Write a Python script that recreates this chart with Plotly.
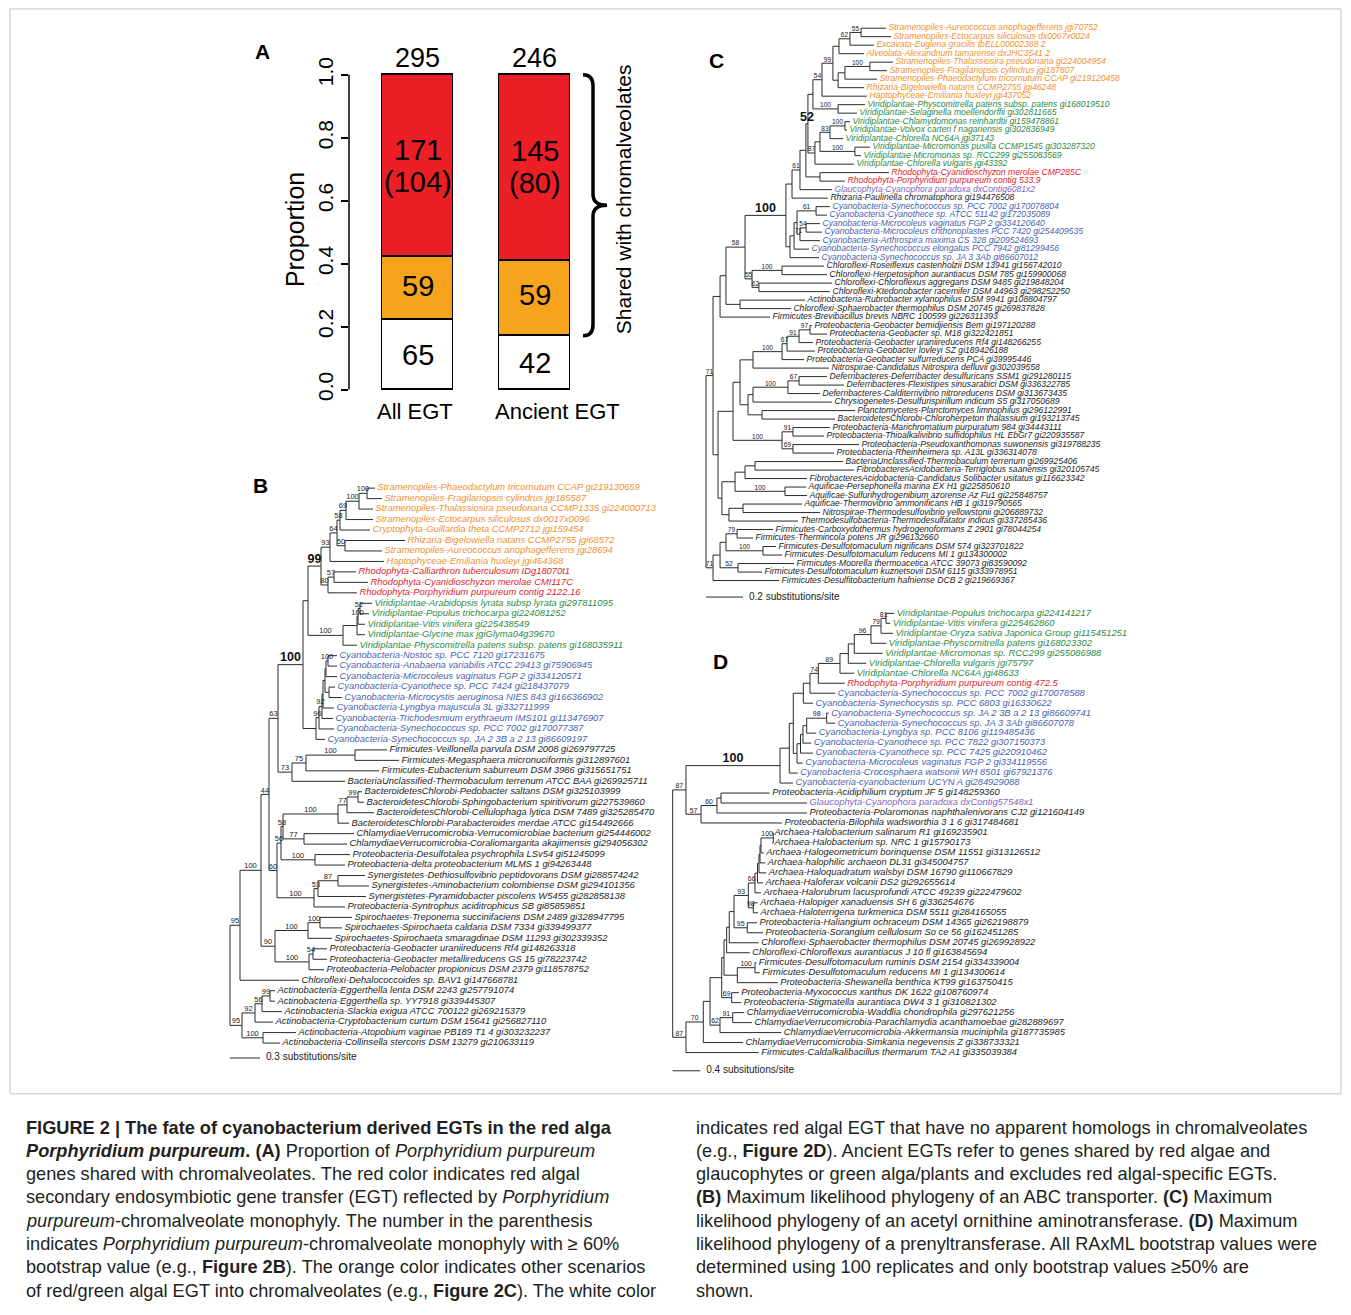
import plotly.graph_objects as go

W, H = 1351, 1315
FONT = "Liberation Sans, Arial, Helvetica, sans-serif"

# ---------------- Panel A data ----------------
categories = ["All EGT", "Ancient EGT"]
white_counts = [65, 42]
orange_counts = [59, 59]
red_counts = [171, 145]
red_bs60_counts = [104, 80]
prop_ticks = [0.0, 0.2, 0.4, 0.6, 0.8, 1.0]
prop_tick_labels = ["0.0", "0.2", "0.4", "0.6", "0.8", "1.0"]

# ---------------- Tree B (ABC transporter) ----------------
B_labels = [
    "Stramenopiles-Phaeodactylum tricornutum CCAP gi219130659",
    "Stramenopiles-Fragilariopsis cylindrus jgi185587",
    "Stramenopiles-Thalassiosira pseudonana CCMP1335 gi224000713",
    "Stramenopiles-Ectocarpus siliculosus dx0017x0096",
    "Cryptophyta-Guillardia theta CCMP2712 jgi159454",
    "Rhizaria-Bigelowiella natans CCMP2755 jgi68572",
    "Stramenopiles-Aureococcus anophagefferens jgi28694",
    "Haptophyceae-Emiliania huxleyi jgi464368",
    "Rhodophyta-Calliarthron tuberculosum IDg18070t1",
    "Rhodophyta-Cyanidioschyzon merolae CMI117C",
    "Rhodophyta-Porphyridium purpureum contig 2122.16",
    "Viridiplantae-Arabidopsis lyrata subsp lyrata gi297811095",
    "Viridiplantae-Populus trichocarpa gi224081252",
    "Viridiplantae-Vitis vinifera gi225438549",
    "Viridiplantae-Glycine max jgiGlyma04g39670",
    "Viridiplantae-Physcomitrella patens subsp. patens gi168035911",
    "Cyanobacteria-Nostoc sp. PCC 7120 gi17231675",
    "Cyanobacteria-Anabaena variabilis ATCC 29413 gi75906945",
    "Cyanobacteria-Microcoleus vaginatus FGP 2 gi334120571",
    "Cyanobacteria-Cyanothece sp. PCC 7424 gi218437079",
    "Cyanobacteria-Microcystis aeruginosa NIES 843 gi166366902",
    "Cyanobacteria-Lyngbya majuscula 3L gi332711999",
    "Cyanobacteria-Trichodesmium erythraeum IMS101 gi113476907",
    "Cyanobacteria-Synechococcus sp. PCC 7002 gi170077387",
    "Cyanobacteria-Synechococcus sp. JA 2 3B a 2 13 gi86609197",
    "Firmicutes-Veillonella parvula DSM 2008 gi269797725",
    "Firmicutes-Megasphaera micronuciformis gi312897601",
    "Firmicutes-Eubacterium saburreum DSM 3986 gi315651751",
    "BacteriaUnclassified-Thermobaculum terrenum ATCC BAA gi269925711",
    "BacteroidetesChlorobi-Pedobacter saltans DSM gi325103999",
    "BacteroidetesChlorobi-Sphingobacterium spiritivorum gi227539860",
    "BacteroidetesChlorobi-Cellulophaga lytica DSM 7489 gi325285470",
    "BacteroidetesChlorobi-Parabacteroides merdae ATCC gi154492666",
    "ChlamydiaeVerrucomicrobia-Verrucomicrobiae bacterium gi254446002",
    "ChlamydiaeVerrucomicrobia-Coraliomargarita akajimensis gi294056302",
    "Proteobacteria-Desulfotalea psychrophila LSv54 gi51245099",
    "Proteobacteria-delta proteobacterium MLMS 1 gi94263448",
    "Synergistetes-Dethiosulfovibrio peptidovorans DSM gi288574242",
    "Synergistetes-Aminobacterium colombiense DSM gi294101356",
    "Synergistetes-Pyramidobacter piscolens W5455 gi282858138",
    "Proteobacteria-Syntrophus aciditrophicus SB gi85859851",
    "Spirochaetes-Treponema succinifaciens DSM 2489 gi328947795",
    "Spirochaetes-Spirochaeta caldaria DSM 7334 gi339499377",
    "Spirochaetes-Spirochaeta smaragdinae DSM 11293 gi302339352",
    "Proteobacteria-Geobacter uraniireducens Rf4 gi148263318",
    "Proteobacteria-Geobacter metallireducens GS 15 gi78223742",
    "Proteobacteria-Pelobacter propionicus DSM 2379 gi118578752",
    "Chloroflexi-Dehalococcoides sp. BAV1 gi147668781",
    "Actinobacteria-Eggerthella lenta DSM 2243 gi257791074",
    "Actinobacteria-Eggerthella sp. YY7918 gi339445307",
    "Actinobacteria-Slackia exigua ATCC 700122 gi269215379",
    "Actinobacteria-Cryptobacterium curtum DSM 15641 gi256827110",
    "Actinobacteria-Atopobium vaginae PB189 T1 4 gi303232237",
    "Actinobacteria-Collinsella stercoris DSM 13279 gi210633119",
]
B_groups = list("oooooooo" + "rrr" + "ggggg" + "bbbbbbbbb" + "k" * 29)
# tip depth (substitutions/site from root)
B_tips = [1.45, 1.52, 1.43, 1.43, 1.40, 1.75, 1.52, 1.54, 1.26, 1.38,
          1.27, 1.42, 1.39, 1.35, 1.35, 1.27, 1.07, 1.07, 1.07, 1.05,
          1.12, 1.04, 1.03, 1.04, 0.95, 1.57, 1.69, 1.49, 1.15, 1.32,
          1.34, 1.44, 1.19, 1.24, 1.17, 1.20, 1.15, 1.35, 1.39, 1.36,
          1.15, 1.22, 1.12, 1.02, 0.97, 0.97, 0.94, 0.69, 0.45, 0.45,
          0.52, 0.43, 0.66, 0.50]
# clades: (first leaf, last leaf, node depth, bootstrap, bold)
B_clades = [
    (1, 2, 1.37, "100", 0), (1, 3, 1.29, "100", 0), (1, 4, 1.16, "69", 0),
    (1, 5, 1.10, "58", 0), (6, 7, 1.15, "50", 0), (1, 7, 1.07, "64", 0),
    (1, 8, 1.00, "93", 0), (9, 10, 1.04, "57", 0), (9, 11, 0.98, "80", 0),
    (1, 11, 0.91, "99", 1), (12, 13, 1.30, "52", 0), (12, 14, 1.28, "100", 0),
    (12, 15, 1.27, "", 0), (12, 16, 1.13, "100", 0), (1, 16, 0.78, "", 0),
    (17, 18, 0.98, "100", 0), (17, 19, 0.96, "", 0), (20, 21, 0.99, "", 0),
    (17, 21, 0.95, "", 0), (17, 22, 0.93, "", 0), (17, 23, 0.92, "92", 0),
    (17, 24, 0.89, "96", 0), (17, 25, 0.86, "", 0), (1, 25, 0.73, "100", 1),
    (26, 27, 1.25, "100", 0), (26, 28, 0.76, "75", 0), (26, 29, 0.62, "73", 0),
    (1, 29, 0.48, "63", 0), (30, 31, 1.28, "99", 0), (30, 32, 1.17, "77", 0),
    (30, 33, 1.08, "100", 0), (34, 35, 0.74, "77", 0), (30, 35, 0.53, "58", 0),
    (36, 37, 0.85, "100", 0), (30, 37, 0.51, "56", 0), (38, 39, 1.08, "87", 0),
    (38, 40, 0.88, "53", 0), (38, 41, 0.84, "100", 0), (30, 41, 0.47, "60", 0),
    (1, 41, 0.39, "44", 0), (42, 43, 0.90, "100", 0), (42, 44, 0.78, "100", 0),
    (45, 46, 0.83, "54", 0), (45, 47, 0.79, "100", 0), (42, 47, 0.45, "90", 0),
    (1, 47, 0.31, "100", 0), (1, 48, 0.10, "95", 0), (49, 50, 0.40, "99", 0),
    (49, 51, 0.32, "56", 0), (49, 52, 0.25, "92", 0), (53, 54, 0.33, "100", 0),
    (49, 54, 0.12, "95", 0), (1, 54, 0.00, "", 0),
]

# ---------------- Tree C (acetyl ornithine aminotransferase) ----------------
C_labels = [
    "Stramenopiles-Aureococcus anophagefferens jgi70752",
    "Stramenopiles-Ectocarpus siliculosus dx0067x0024",
    "Excavata-Euglena gracilis tbELL00002388 2",
    "Alveolata-Alexandrium tamarense dxJHC3541 2",
    "Stramenopiles-Thalassiosira pseudonana gi224004954",
    "Stramenopiles-Fragilariopsis cylindrus jgi187807",
    "Stramenopiles-Phaeodactylum tricornutum CCAP gi219120458",
    "Rhizaria-Bigelowiella natans CCMP2755 jgi46248",
    "Haptophyceae-Emiliania huxleyi jgi437052",
    "Viridiplantae-Physcomitrella patens subsp. patens gi168019510",
    "Viridiplantae-Selaginella moellendorffii gi302811665",
    "Viridiplantae-Chlamydomonas reinhardtii gi159478861",
    "Viridiplantae-Volvox carteri f nagariensis gi302836949",
    "Viridiplantae-Chlorella NC64A jgi37143",
    "Viridiplantae-Micromonas pusilla CCMP1545 gi303287320",
    "Viridiplantae-Micromonas sp. RCC299 gi255083569",
    "Viridiplantae-Chlorella vulgaris jgi43392",
    "Rhodophyta-Cyanidioschyzon merolae CMP285C",
    "Rhodophyta-Porphyridium purpureum contig 533.9",
    "Glaucophyta-Cyanophora paradoxa dxContig6081x2",
    "Rhizaria-Paulinella chromatophora gi194476508",
    "Cyanobacteria-Synechococcus sp. PCC 7002 gi170078804",
    "Cyanobacteria-Cyanothece sp. ATCC 51142 gi172035089",
    "Cyanobacteria-Microcoleus vaginatus FGP 2 gi334120640",
    "Cyanobacteria-Microcoleus chthonoplastes PCC 7420 gi254409535",
    "Cyanobacteria-Arthrospira maxima CS 328 gi209524693",
    "Cyanobacteria-Synechococcus elongatus PCC 7942 gi81299456",
    "Cyanobacteria-Synechococcus sp. JA 3 3Ab gi86607012",
    "Chloroflexi-Roseiflexus castenholzii DSM 13941 gi156742010",
    "Chloroflexi-Herpetosiphon aurantiacus DSM 785 gi159900068",
    "Chloroflexi-Chloroflexus aggregans DSM 9485 gi219848204",
    "Chloroflexi-Ktedonobacter racemifer DSM 44963 gi298252250",
    "Actinobacteria-Rubrobacter xylanophilus DSM 9941 gi108804797",
    "Chloroflexi-Sphaerobacter thermophilus DSM 20745 gi269837828",
    "Firmicutes-Brevibacillus brevis NBRC 100599 gi226311393",
    "Proteobacteria-Geobacter bemidjiensis Bem gi197120288",
    "Proteobacteria-Geobacter sp. M18 gi322421851",
    "Proteobacteria-Geobacter uraniireducens Rf4 gi148266255",
    "Proteobacteria-Geobacter lovleyi SZ gi189426188",
    "Proteobacteria-Geobacter sulfurreducens PCA gi39995446",
    "Nitrospirae-Candidatus Nitrospira defluvii gi302039558",
    "Deferribacteres-Deferribacter desulfuricans SSM1 gi291280115",
    "Deferribacteres-Flexistipes sinusarabici DSM gi336322785",
    "Deferribacteres-Calditerrivibrio nitroreducens DSM gi313673435",
    "Chrysiogenetes-Desulfurispirillum indicum S5 gi317050689",
    "Planctomycetes-Planctomyces limnophilus gi296122991",
    "BacteroidetesChlorobi-Chloroherpeton thalassium gi193213745",
    "Proteobacteria-Marichromatium purpuratum 984 gi34443111",
    "Proteobacteria-Thioalkalivibrio sulfidophilus HL EbGr7 gi220935587",
    "Proteobacteria-Pseudoxanthomonas suwonensis gi319788235",
    "Proteobacteria-Rheinheimera sp. A13L gi336314078",
    "BacteriaUnclassified-Thermobaculum terrenum gi269925406",
    "FibrobacteresAcidobacteria-Terriglobus saanensis gi320105745",
    "FibrobacteresAcidobacteria-Candidatus Solibacter usitatus gi116623342",
    "Aquificae-Persephonella marina EX H1 gi225850610",
    "Aquificae-Sulfurihydrogenibium azorense Az Fu1 gi225848757",
    "Aquificae-Thermovibrio ammonificans HB 1 gi319790565",
    "Nitrospirae-Thermodesulfovibrio yellowstonii gi206889732",
    "Thermodesulfobacteria-Thermodesulfatator indicus gi337285436",
    "Firmicutes-Carboxydothermus hydrogenoformans Z 2901 gi78044254",
    "Firmicutes-Thermincola potens JR gi296132660",
    "Firmicutes-Desulfotomaculum nigrificans DSM 574 gi323701822",
    "Firmicutes-Desulfotomaculum reducens MI 1 gi134300002",
    "Firmicutes-Moorella thermoacetica ATCC 39073 gi83590092",
    "Firmicutes-Desulfotomaculum kuznetsovii DSM 6115 gi333978951",
    "Firmicutes-Desulfitobacterium hafniense DCB 2 gi219669367",
]
C_groups = list("ooooooooo" + "gggggggg" + "rr" + "p" + "k" + "bbbbbbb" + "k" * 38)
C_tips = [0.973, 1.000, 0.908, 0.854, 1.011, 0.978, 0.924, 0.854, 0.870, 0.859,
          0.816, 0.778, 0.762, 0.741, 0.886, 0.838, 0.800, 0.989, 0.751, 0.681,
          0.659, 0.670, 0.654, 0.616, 0.627, 0.616, 0.557, 0.611, 0.638, 0.654,
          0.681, 0.670, 0.535, 0.459, 0.346, 0.573, 0.654, 0.578, 0.589, 0.530,
          0.665, 0.654, 0.746, 0.616, 0.681, 0.805, 0.697, 0.670, 0.638, 0.827,
          0.692, 0.741, 0.800, 0.546, 0.541, 0.546, 0.519, 0.616, 0.497, 0.362,
          0.254, 0.378, 0.411, 0.476, 0.303, 0.395]
C_clades = [
    (1, 2, 0.838, "55", 0), (1, 3, 0.778, "62", 0), (1, 4, 0.719, "", 0),
    (5, 6, 0.886, "100", 0), (5, 7, 0.751, "", 0), (5, 8, 0.714, "", 0),
    (1, 8, 0.686, "99", 0), (1, 9, 0.627, "54", 0), (10, 11, 0.714, "100", 0),
    (1, 11, 0.578, "", 0), (12, 13, 0.751, "100", 0), (12, 14, 0.670, "83", 0),
    (15, 16, 0.805, "100", 0), (12, 16, 0.616, "", 0), (12, 17, 0.589, "87", 0),
    (1, 17, 0.551, "52", 1), (18, 19, 0.616, "", 0), (1, 19, 0.540, "", 0),
    (1, 20, 0.508, "61", 0), (1, 21, 0.465, "", 0), (22, 23, 0.595, "61", 0),
    (24, 25, 0.541, "54", 0), (24, 26, 0.508, "71", 0), (22, 26, 0.492, "", 0),
    (22, 27, 0.476, "", 0), (22, 28, 0.454, "", 0), (1, 28, 0.432, "100", 1),
    (29, 30, 0.411, "100", 0), (31, 32, 0.286, "62", 0), (29, 32, 0.249, "55", 0),
    (1, 32, 0.211, "58", 0), (33, 34, 0.184, "", 0), (1, 34, 0.108, "", 0),
    (1, 35, 0.076, "", 0), (36, 37, 0.562, "97", 0), (36, 38, 0.503, "91", 0),
    (36, 39, 0.438, "67", 0), (36, 40, 0.411, "100", 0), (36, 41, 0.254, "", 0),
    (42, 43, 0.503, "67", 0), (42, 44, 0.443, "100", 0), (42, 45, 0.254, "", 0),
    (46, 47, 0.303, "", 0), (42, 47, 0.227, "", 0), (36, 47, 0.184, "", 0),
    (48, 49, 0.470, "91", 0), (50, 51, 0.470, "69", 0), (48, 51, 0.411, "100", 0),
    (36, 51, 0.146, "", 0), (52, 53, 0.265, "", 0), (52, 54, 0.211, "", 0),
    (55, 56, 0.427, "100", 0), (52, 56, 0.157, "", 0), (57, 58, 0.200, "", 0),
    (57, 59, 0.124, "", 0), (52, 59, 0.086, "", 0), (36, 59, 0.065, "", 0),
    (1, 59, 0.038, "71", 0), (60, 61, 0.168, "79", 0), (62, 63, 0.308, "100", 0),
    (60, 63, 0.108, "", 0), (64, 65, 0.173, "52", 0), (60, 65, 0.076, "", 0),
    (60, 66, 0.038, "71", 0), (1, 66, 0.000, "", 0),
]

# ---------------- Tree D (prenyltransferase) ----------------
D_labels = [
    "Viridiplantae-Populus trichocarpa gi224141217",
    "Viridiplantae-Vitis vinifera gi225462860",
    "Viridiplantae-Oryza sativa Japonica Group gi115451251",
    "Viridiplantae-Physcomitrella patens gi168023302",
    "Viridiplantae-Micromonas sp. RCC299 gi255086988",
    "Viridiplantae-Chlorella vulgaris jgi75797",
    "Viridiplantae-Chlorella NC64A jgi48633",
    "Rhodophyta-Porphyridium purpureum contig 472.5",
    "Cyanobacteria-Synechococcus sp. PCC 7002 gi170078588",
    "Cyanobacteria-Synechocystis sp. PCC 6803 gi16330622",
    "Cyanobacteria-Synechococcus sp. JA 2 3B a 2 13 gi86609741",
    "Cyanobacteria-Synechococcus sp. JA 3 3Ab gi86607078",
    "Cyanobacteria-Lyngbya sp. PCC 8106 gi119485436",
    "Cyanobacteria-Cyanothece sp. PCC 7822 gi307150373",
    "Cyanobacteria-Cyanothece sp. PCC 7425 gi220910462",
    "Cyanobacteria-Microcoleus vaginatus FGP 2 gi334119556",
    "Cyanobacteria-Crocosphaera watsonii WH 8501 gi67921376",
    "Cyanobacteria-cyanobacterium UCYN A gi284929088",
    "Proteobacteria-Acidiphilium cryptum JF 5 gi148259360",
    "Glaucophyta-Cyanophora paradoxa dxContig57548x1",
    "Proteobacteria-Polaromonas naphthalenivorans CJ2 gi121604149",
    "Proteobacteria-Bilophila wadsworthia 3 1 6 gi317484681",
    "Archaea-Halobacterium salinarum R1 gi169235901",
    "Archaea-Halobacterium sp. NRC 1 gi15790173",
    "Archaea-Halogeometricum borinquense DSM 11551 gi313126512",
    "Archaea-halophilic archaeon DL31 gi345004757",
    "Archaea-Haloquadratum walsbyi DSM 16790 gi110667829",
    "Archaea-Haloferax volcanii DS2 gi292655614",
    "Archaea-Halorubrum lacusprofundi ATCC 49239 gi222479602",
    "Archaea-Halopiger xanaduensis SH 6 gi336254676",
    "Archaea-Haloterrigena turkmenica DSM 5511 gi284165055",
    "Proteobacteria-Haliangium ochraceum DSM 14365 gi262198879",
    "Proteobacteria-Sorangium cellulosum So ce 56 gi162451285",
    "Chloroflexi-Sphaerobacter thermophilus DSM 20745 gi269928922",
    "Chloroflexi-Chloroflexus aurantiacus J 10 fl gi163845694",
    "Firmicutes-Desulfotomaculum ruminis DSM 2154 gi334339004",
    "Firmicutes-Desulfotomaculum reducens MI 1 gi134300614",
    "Proteobacteria-Shewanella benthica KT99 gi163750415",
    "Proteobacteria-Myxococcus xanthus DK 1622 gi108760974",
    "Proteobacteria-Stigmatella aurantiaca DW4 3 1 gi310821302",
    "ChlamydiaeVerrucomicrobia-Waddlia chondrophila gi297621256",
    "ChlamydiaeVerrucomicrobia-Parachlamydia acanthamoebae gi282889697",
    "ChlamydiaeVerrucomicrobia-Akkermansia muciniphila gi187735985",
    "ChlamydiaeVerrucomicrobia-Simkania negevensis Z gi338733321",
    "Firmicutes-Caldalkalibacillus thermarum TA2 A1 gi335039384",
]
D_groups = list("ggggggg" + "r" + "bbbbbbbbbb" + "k" + "p" + "k" * 25)
D_tips = [3.223, 3.165, 3.204, 3.107, 3.055, 2.816, 2.641, 2.502, 2.365, 2.041,
          2.269, 2.365, 2.089, 2.016, 2.041, 1.891, 1.818, 1.750, 1.411, 1.953,
          1.953, 1.590, 1.444, 1.444, 1.324, 1.347, 1.361, 1.313, 1.284, 1.236,
          1.241, 1.226, 1.313, 1.251, 1.120, 1.216, 1.265, 1.527, 0.960, 0.998,
          1.041, 1.153, 1.580, 1.023, 1.251]
D_clades = [
    (1, 2, 3.103, "81", 0), (1, 3, 3.030, "79", 0), (1, 4, 2.884, "96", 0),
    (1, 5, 2.641, "", 0), (1, 6, 2.554, "", 0), (1, 7, 2.433, "89", 0),
    (1, 8, 2.118, "74", 0), (1, 9, 1.997, "", 0), (1, 10, 1.900, "", 0),
    (11, 12, 2.240, "98", 0), (11, 13, 1.949, "", 0), (11, 14, 1.895, "", 0),
    (11, 15, 1.859, "", 0), (11, 16, 1.808, "", 0), (1, 16, 1.754, "", 0),
    (1, 17, 1.696, "", 0), (1, 18, 1.561, "100", 1), (19, 20, 0.703, "", 0),
    (19, 21, 0.644, "60", 0), (19, 22, 0.412, "57", 0), (1, 22, 0.193, "87", 0),
    (23, 24, 1.463, "100", 0), (23, 25, 1.284, "", 0), (23, 26, 1.270, "", 0),
    (23, 27, 1.255, "", 0), (23, 28, 1.233, "", 0), (23, 29, 1.197, "66", 0),
    (30, 31, 1.172, "98", 0), (23, 31, 1.100, "93", 0), (32, 33, 1.085, "95", 0),
    (23, 33, 0.892, "", 0), (23, 34, 0.823, "", 0), (23, 35, 0.785, "", 0),
    (36, 37, 1.197, "100", 0), (36, 38, 0.940, "", 0), (23, 38, 0.746, "", 0),
    (39, 40, 0.858, "69", 0), (23, 40, 0.713, "", 0), (41, 42, 0.873, "91", 0),
    (41, 43, 0.688, "62", 0), (23, 43, 0.543, "", 0), (23, 44, 0.445, "70", 0),
    (23, 45, 0.193, "87", 0), (1, 45, 0.000, "", 0),
]

GROUP_COLORS = {"o": "#F0912F", "r": "#E2242B", "g": "#2C8A45",
                "b": "#4763AE", "p": "#8066BE", "k": "#1E1E1E"}

fig = go.Figure()


def tree_geometry(n, tips, clades):
    size = lambda c: c[1] - c[0]
    cl = sorted(clades, key=size)
    parent = []
    for i, c in enumerate(cl):
        best = None
        for j, d in enumerate(cl):
            if j != i and d[0] <= c[0] and c[1] <= d[1] and size(d) > size(c):
                if best is None or size(d) < size(cl[best]):
                    best = j
        parent.append(best)
    leaf_parent = []
    for k in range(1, n + 1):
        best = None
        for j, d in enumerate(cl):
            if d[0] <= k <= d[1] and (best is None or size(d) < size(cl[best])):
                best = j
        leaf_parent.append(best)
    ycen = [0.0] * len(cl)
    xs, ys = [], []
    for i, c in enumerate(cl):
        kids = [(k, tips[k]) for k in range(n) if leaf_parent[k] == i]
        kids += [(ycen[j], cl[j][2]) for j in range(i) if parent[j] == i]
        lo = min(k[0] for k in kids)
        hi = max(k[0] for k in kids)
        ycen[i] = (lo + hi) / 2
        xs += [c[2], c[2], None]
        ys += [lo, hi, None]
        for (yk, xk) in kids:
            xs += [c[2], xk, None]
            ys += [yk, yk, None]
    sup = {0: ([], [], []), 1: ([], [], [])}
    for i, c in enumerate(cl):
        if parent[i] is not None and c[3]:
            sx, sy, st = sup[c[4]]
            sx.append((cl[parent[i]][2] + c[2]) / 2)
            sy.append(ycen[i])
            st.append(c[3])
    return xs, ys, sup


def add_tree(idx, labels, groups, tips, clades, root_px, ppu, y0_px, step_px,
             right_px, label_size, support_size, scale_len, scale_text, scale_gap_px):
    n = len(labels)
    pad_px = 8
    top_px = y0_px - 1.5 * step_px
    bot_px = y0_px + (n - 1 + 3) * step_px
    fig.update_layout(**{
        f"xaxis{idx}": dict(domain=[(root_px - pad_px) / W, right_px / W],
                            range=[-pad_px / ppu, (right_px - root_px) / ppu],
                            visible=False, anchor=f"y{idx}", fixedrange=True),
        f"yaxis{idx}": dict(domain=[1 - bot_px / H, 1 - top_px / H],
                            range=[n - 1 + 3, -1.5], visible=False,
                            anchor=f"x{idx}", fixedrange=True),
    })
    xa, ya = f"x{idx}", f"y{idx}"
    xs, ys, sup = tree_geometry(n, tips, clades)
    fig.add_trace(go.Scatter(x=xs, y=ys, mode="lines", xaxis=xa, yaxis=ya,
                             line=dict(color="#2a2a2a", width=1),
                             hoverinfo="skip", showlegend=False))
    gap = 2.5 / ppu
    fig.add_trace(go.Scatter(
        x=[t + gap for t in tips], y=list(range(n)), mode="text", text=labels,
        textposition="middle right", xaxis=xa, yaxis=ya, cliponaxis=False,
        textfont=dict(family=FONT, size=label_size, style="italic",
                      color=[GROUP_COLORS[g] for g in groups]),
        hoverinfo="skip", showlegend=False))
    sx, sy, st = sup[0]
    fig.add_trace(go.Scatter(
        x=sx, y=sy, mode="text", text=st, textposition="top center",
        xaxis=xa, yaxis=ya, cliponaxis=False,
        textfont=dict(family=FONT, size=support_size, color="#1a1a1a"),
        hoverinfo="skip", showlegend=False))
    bx, by, bt = sup[1]
    fig.add_trace(go.Scatter(
        x=bx, y=by, mode="text", text=[f"<b>{t}</b>" for t in bt],
        textposition="top center", xaxis=xa, yaxis=ya, cliponaxis=False,
        textfont=dict(family=FONT, size=12.5, color="#111111"),
        hoverinfo="skip", showlegend=False))
    ysb = n - 1 + scale_gap_px / step_px
    fig.add_trace(go.Scatter(x=[0, scale_len], y=[ysb, ysb], mode="lines",
                             xaxis=xa, yaxis=ya, line=dict(color="#2a2a2a", width=1),
                             cliponaxis=False, hoverinfo="skip", showlegend=False))
    fig.add_trace(go.Scatter(
        x=[scale_len + 6 / ppu], y=[ysb], mode="text", text=[scale_text],
        textposition="middle right", xaxis=xa, yaxis=ya, cliponaxis=False,
        textfont=dict(family=FONT, size=10, color="#1a1a1a"),
        hoverinfo="skip", showlegend=False))


def paper_text(px, py, text, size, angle=0, color="black"):
    fig.add_annotation(x=px / W, y=1 - py / H, xref="paper", yref="paper",
                       xanchor="center", yanchor="middle", text=text, textangle=angle,
                       showarrow=False, font=dict(family=FONT, size=size, color=color))


# ---------------- Panel A: stacked proportions ----------------
totals = [w + o + r for w, o, r in zip(white_counts, orange_counts, red_counts)]
p_white = [w / t for w, t in zip(white_counts, totals)]
p_orange = [o / t for o, t in zip(orange_counts, totals)]
p_red = [r / t for r, t in zip(red_counts, totals)]
xpos = list(range(len(categories)))

A_y0_px, A_y1_px = 391, 75          # pixel rows of proportion 0 and 1
A_ppu_y = A_y0_px - A_y1_px
A_c0_px, A_ppu_x = 417.5, 117.0     # first bar centre, pixels per category
A_left_px, A_right_px = 349, 640
y_lo, y_hi = -0.02, 1.2
fig.update_layout(
    xaxis=dict(domain=[A_left_px / W, A_right_px / W],
               range=[(A_left_px - A_c0_px) / A_ppu_x, (A_right_px - A_c0_px) / A_ppu_x],
               visible=False, anchor="y", fixedrange=True),
    yaxis=dict(domain=[1 - (A_y0_px - y_lo * A_ppu_y) / H, 1 - (A_y0_px - y_hi * A_ppu_y) / H],
               range=[y_lo, y_hi], tickvals=prop_ticks, ticktext=prop_tick_labels,
               tickangle=-90, ticks="outside", ticklen=7, tickwidth=1.5, tickcolor="black",
               showline=False, showgrid=False, zeroline=False, anchor="x", fixedrange=True,
               tickfont=dict(family=FONT, size=21, color="black")),
)
bw = 71 / A_ppu_x
for vals, col in [(p_white, "white"), (p_orange, "#F6A31E"), (p_red, "#EC1E26")]:
    fig.add_trace(go.Bar(x=xpos, y=vals, width=bw, xaxis="x", yaxis="y",
                         marker=dict(color=col, line=dict(color="black", width=1.5)),
                         hoverinfo="skip", showlegend=False))

# y axis line from 0 to 1 only
fig.add_shape(type="line", xref="paper", yref="y", x0=A_left_px / W, x1=A_left_px / W,
              y0=0, y1=1, line=dict(color="black", width=1.5))

num_font = dict(family=FONT, size=29, color="black")
for i in xpos:
    fig.add_annotation(x=i, y=1.0, xref="x", yref="y", text=str(totals[i]),
                       showarrow=False, xanchor="center", yanchor="bottom",
                       font=dict(family=FONT, size=27, color="black"))
    mid_r = p_white[i] + p_orange[i] + p_red[i] / 2
    fig.add_annotation(x=i, y=mid_r, xref="x", yref="y", text=str(red_counts[i]),
                       showarrow=False, xanchor="center", yanchor="middle", yshift=16, font=num_font)
    fig.add_annotation(x=i, y=mid_r, xref="x", yref="y", text=f"({red_bs60_counts[i]})",
                       showarrow=False, xanchor="center", yanchor="middle", yshift=-16, font=num_font)
    fig.add_annotation(x=i, y=p_white[i] + p_orange[i] / 2, xref="x", yref="y",
                       text=str(orange_counts[i]), showarrow=False, xanchor="center",
                       yanchor="middle", yshift=3, font=num_font)
    fig.add_annotation(x=i, y=p_white[i] / 2, xref="x", yref="y",
                       text=str(white_counts[i]), showarrow=False, xanchor="center",
                       yanchor="middle", font=num_font)

cat_label_px = [415, 557.5]
for c, cx in zip(categories, cat_label_px):
    paper_text(cx, 413, c, 22)
paper_text(295, 231, "Proportion", 25, angle=-90)

# curly brace spanning the "shared with chromalveolates" part of bar 2
bx0 = (583 - A_c0_px) / A_ppu_x
bx1 = (593 - A_c0_px) / A_ppu_x
btip = (607 - A_c0_px) / A_ppu_x
b_top, b_bot = 1.0, p_white[1]
b_mid = (b_top + b_bot) / 2
r = 0.035
brace = (f"M {bx0},{b_top} Q {bx1},{b_top} {bx1},{b_top - r} L {bx1},{b_mid + r} "
         f"Q {bx1},{b_mid} {btip},{b_mid} Q {bx1},{b_mid} {bx1},{b_mid - r} "
         f"L {bx1},{b_bot + r} Q {bx1},{b_bot} {bx0},{b_bot}")
fig.add_shape(type="path", path=brace, xref="x", yref="y",
              line=dict(color="black", width=3.5))
paper_text(623, 200, "Shared with chromalveolates", 21, angle=-90)

# ---------------- Trees ----------------
add_tree(2, B_labels, B_groups, B_tips, B_clades, root_px=230, ppu=100, y0_px=490,
         step_px=10.51, right_px=700, label_size=9.4, support_size=7.5,
         scale_len=0.3, scale_text="0.3 substitutions/site", scale_gap_px=15)
add_tree(3, C_labels, C_groups, C_tips, C_clades, root_px=706, ppu=185, y0_px=28.3,
         step_px=8.53, right_px=1345, label_size=8.6, support_size=6.6,
         scale_len=0.2, scale_text="0.2 substitutions/site", scale_gap_px=16.6)
add_tree(4, D_labels, D_groups, D_tips, D_clades, root_px=672.7, ppu=68.75, y0_px=615.7,
         step_px=10.02, right_px=1345, label_size=9.4, support_size=6.9,
         scale_len=0.4, scale_text="0.4 subsitutions/site", scale_gap_px=18.3)

# panel letters
for letter, (px, py) in {"A": (262, 52), "B": (260, 487), "C": (716, 61), "D": (720, 664)}.items():
    paper_text(px, py, f"<b>{letter}</b>", 21)

# frame around the figure area
fig.add_shape(type="rect", xref="paper", yref="paper", x0=10 / W, x1=1341 / W,
              y0=1 - 1098 / H, y1=1 - 9 / H, line=dict(color="#C4C4C4", width=1))

# ---------------- Caption ----------------
caption_left = [
    "<b>FIGURE 2 | The fate of cyanobacterium derived EGTs in the red alga</b>",
    "<b><i>Porphyridium purpureum</i>. (A)</b> Proportion of <i>Porphyridium purpureum</i>",
    "genes shared with chromalveolates. The red color indicates red algal",
    "secondary endosymbiotic gene transfer (EGT) reflected by <i>Porphyridium</i>",
    "<i>purpureum</i>-chromalveolate monophyly. The number in the parenthesis",
    "indicates <i>Porphyridium purpureum</i>-chromalveolate monophyly with ≥ 60%",
    "bootstrap value (e.g., <b>Figure 2B</b>). The orange color indicates other scenarios",
    "of red/green algal EGT into chromalveolates (e.g., <b>Figure 2C</b>). The white color",
]
caption_right = [
    "indicates red algal EGT that have no apparent homologs in chromalveolates",
    "(e.g., <b>Figure 2D</b>). Ancient EGTs refer to genes shared by red algae and",
    "glaucophytes or green alga/plants and excludes red algal-specific EGTs.",
    "<b>(B)</b> Maximum likelihood phylogeny of an ABC transporter. <b>(C)</b> Maximum",
    "likelihood phylogeny of an acetyl ornithine aminotransferase. <b>(D)</b> Maximum",
    "likelihood phylogeny of a prenyltransferase. All RAxML bootstrap values were",
    "determined using 100 replicates and only bootstrap values ≥50% are",
    "shown.",
]
for col_x, lines in [(24, caption_left), (694, caption_right)]:
    for i, line in enumerate(lines):
        fig.add_annotation(x=col_x / W, y=1 - (1132 + i * 23.35) / H, xref="paper",
                           yref="paper", xanchor="left", yanchor="middle", text=line,
                           showarrow=False, font=dict(family=FONT, size=18.2, color="#231F20"))

fig.update_layout(width=W, height=H, margin=dict(l=0, r=0, t=0, b=0),
                  paper_bgcolor="white", plot_bgcolor="rgba(0,0,0,0)", showlegend=False,
                  barmode="stack", bargap=0, font=dict(family=FONT, color="black"))

fig.write_html("out.html", config={"displayModeBar": False})
